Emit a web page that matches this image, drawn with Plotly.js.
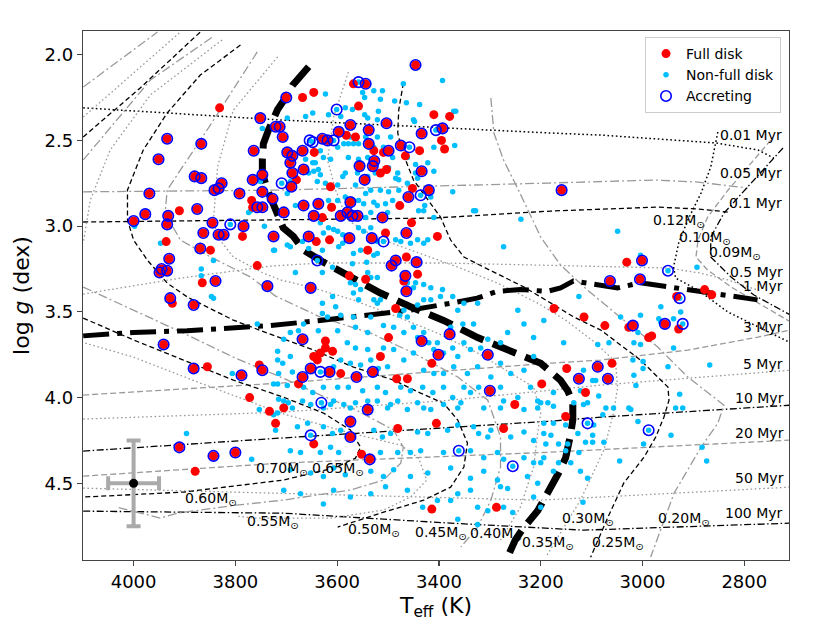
<!DOCTYPE html>
<html>
<head>
<meta charset="utf-8">
<script src="https://cdn.plot.ly/plotly-3.0.1.min.js"></script>
<style>body{margin:0;background:#fff;} #hr{width:830px;height:623px;}</style>
</head>
<body>
<div id="hr"></div>
<script>
// stars: [Teff, log g]
var fullDisk = [[3831,2.31],[3934,2.49],[3867,2.52],[3951,2.61],[3880,2.71],[3867,2.72],[3827,2.75],[3833,2.78],[3841,2.79],[3792,2.81],
[3969,2.81],[3910,2.91],[3977,2.93],[4000,2.97],[3875,2.90],[3932,2.94],[3934,2.99],[3764,2.56],[3751,2.37],[3721,2.42],
[3766,2.73],[3747,2.70],[3768,2.85],[3766,2.89],[3757,2.89],[3747,2.89],[3747,2.80],[3727,2.84],[3446,2.06],[3568,2.17],
[3544,2.17],[3668,2.25],[3646,2.22],[3700,2.25],[3558,2.30],[3410,2.35],[3379,2.36],[3574,2.41],[3538,2.44],[3503,2.40],
[3713,2.42],[3707,2.48],[3597,2.45],[3582,2.47],[3564,2.48],[3434,2.46],[3393,2.43],[3395,2.50],[3389,2.55],[3475,2.53],
[3438,2.56],[3698,2.57],[3688,2.59],[3645,2.57],[3668,2.56],[3538,2.52],[3528,2.56],[3509,2.57],[3499,2.56],[3692,2.63],
[3688,2.69],[3666,2.67],[3680,2.73],[3556,2.65],[3527,2.62],[3530,2.65],[3515,2.69],[3503,2.67],[3546,2.73],[3434,2.68],
[3466,2.59],[3690,2.77],[3613,2.77],[3452,2.78],[3420,2.79],[3460,2.83],[3705,2.92],[3666,2.88],[3637,2.87],[3611,2.89],
[3574,2.86],[3477,2.88],[3646,2.94],[3629,2.95],[3593,2.94],[3580,2.92],[3570,2.94],[3560,2.94],[3511,2.95],[3159,2.79],
[3845,2.98],[3784,3.00],[3863,3.04],[3833,3.05],[3823,3.05],[3786,3.06],[3725,3.06],[3936,3.09],[3869,3.13],[3849,3.14],
[3930,3.19],[3945,3.25],[3934,3.26],[3949,3.27],[3757,3.23],[3865,3.33],[3839,3.32],[3737,3.35],[3928,3.42],[3924,3.45],
[3882,3.46],[3941,3.69],[3882,3.83],[3855,3.82],[3788,3.87],[3753,3.81],[3747,3.84],[3772,4.00],[3733,4.08],[3721,4.15],
[3910,4.29],[3843,4.34],[3800,4.32],[3879,4.43],[3454,2.98],[3656,3.06],[3641,3.09],[3615,3.08],[3576,3.07],[3532,3.07],
[3505,3.04],[3464,3.04],[3403,3.06],[3540,3.14],[3485,3.20],[3493,3.23],[3444,3.21],[3464,3.18],[3576,3.29],[3544,3.31],
[3466,3.29],[3469,3.32],[3442,3.28],[3652,3.36],[3464,3.38],[3485,3.48],[3499,3.65],[3434,3.67],[3379,3.63],[3668,3.66],
[3623,3.67],[3609,3.73],[3646,3.76],[3639,3.78],[3633,3.74],[3623,3.71],[3401,3.75],[3414,3.80],[3304,3.75],[3515,3.76],
[3652,3.83],[3668,3.88],[3676,3.92],[3615,3.85],[3593,3.86],[3562,3.88],[3530,3.85],[3483,3.89],[3462,3.89],[3540,4.07],
[3705,4.06],[3198,3.92],[3251,4.04],[3300,3.96],[3574,4.14],[3574,4.23],[3646,4.27],[3481,4.18],[3405,4.15],[3552,4.33],
[3536,4.36],[3273,4.18],[3414,4.65],[3287,4.64],[3031,3.21],[3001,3.20],[3064,3.32],[3005,3.31],[2878,3.37],[2864,3.40],
[2933,3.41],[3174,3.48],[3115,3.53],[3074,3.58],[3019,3.58],[3027,3.59],[2956,3.57],[2929,3.60],[2988,3.65],[2982,3.64],
[3088,3.82],[3060,3.80],[3149,3.83],[3125,3.89],[3068,3.89],[3112,3.97],[3151,4.11],[3629,2.49],[3619,2.50]];

var nonFullDisk = [[3470,2.17],[3393,2.15],[3623,2.23],[3550,2.22],[3546,2.25],[3528,2.21],[3511,2.21],[3515,2.26],[3487,2.27],[3464,2.28],
[3438,2.29],[3584,2.31],[3570,2.32],[3546,2.35],[3519,2.33],[3648,2.34],[3662,2.36],[3698,2.37],[3617,2.35],[3593,2.36],
[3521,2.38],[3540,2.37],[3450,2.38],[3448,2.39],[3371,2.33],[3367,2.33],[3495,2.48],[3521,2.48],[3574,2.48],[3587,2.52],
[3578,2.52],[3568,2.52],[3558,2.52],[3599,2.54],[3544,2.48],[3528,2.54],[3633,2.56],[3627,2.60],[3613,2.61],[3578,2.60],
[3558,2.61],[3540,2.60],[3509,2.54],[3491,2.60],[3462,2.60],[3410,2.54],[3369,2.53],[3446,2.64],[3422,2.63],[3410,2.68],
[3648,2.63],[3643,2.63],[3637,2.67],[3662,2.61],[3656,2.69],[3646,2.68],[3633,2.70],[3589,2.71],[3584,2.69],[3560,2.69],
[3540,2.71],[3525,2.69],[3499,2.66],[3481,2.69],[3485,2.72],[3479,2.73],[3462,2.75],[3446,2.69],[3442,2.72],[3692,2.74],
[3698,2.81],[3639,2.74],[3623,2.75],[3599,2.76],[3564,2.76],[3544,2.81],[3534,2.79],[3515,2.79],[3499,2.80],[3479,2.79],
[3373,2.80],[3416,2.83],[3491,2.85],[3505,2.87],[3568,2.85],[3558,2.85],[3548,2.87],[3528,2.86],[3584,2.83],[3599,2.85],
[3617,2.85],[3332,2.91],[3410,2.95],[3534,2.92],[3544,2.95],[3430,2.91],
[3705,2.91],[3682,2.88],[3521,2.88],[3501,2.92],[3440,2.91],[3428,2.88],[3328,2.91],[3239,2.96],[3273,3.12],[3725,3.14],
[3698,3.11],[3692,3.12],[3668,3.09],[3656,3.13],[3629,3.14],[3627,3.04],[3599,3.03],[3589,3.05],[3633,2.98],[3617,3.01],
[3607,3.02],[3558,3.01],[3548,3.03],[3534,3.01],[3521,3.09],[3485,3.08],[3475,3.09],[3456,3.10],[3442,3.08],[3422,3.08],
[3430,3.10],[3597,3.12],[3589,3.10],[3568,3.16],[3554,3.14],[3528,3.17],[3521,3.16],[3570,3.22],[3542,3.21],[3609,3.24],
[3682,3.27],[3629,3.27],[3574,3.33],[3564,3.34],[3554,3.37],[3540,3.27],[3534,3.30],[3521,3.30],[3462,3.33],[3446,3.33],
[3450,3.36],[3430,3.34],[3416,3.36],[3393,3.37],[3397,3.41],[3430,3.43],[3442,3.46],[3469,3.49],[3462,3.53],[3477,3.52],
[3528,3.43],[3521,3.45],[3515,3.43],[3558,3.43],[3534,3.53],[3568,3.53],[3593,3.52],[3619,3.53],[3629,3.45],[3609,3.41],
[3603,3.47],[3568,3.39],[3629,3.51],[3666,3.57],[3692,3.62],[3705,3.66],[3717,3.73],[3676,3.61],[3637,3.61],[3599,3.61],
[3564,3.59],[3540,3.62],[3509,3.58],[3489,3.59],[3469,3.62],[3450,3.59],[3442,3.65],[3430,3.62],[3420,3.68],[3410,3.72],
[3403,3.68],[3391,3.74],[3373,3.71],[3363,3.76],[3351,3.68],[3338,3.72],[3318,3.71],[3304,3.66],[3279,3.68],[3265,3.62],
[3332,3.57],[3353,3.57],[3377,3.59],[3363,3.49],[3351,3.45],[3324,3.45],[3373,3.41],[3416,3.43],[3245,3.49],[3233,3.57],
[3214,3.65],[3194,3.55],[3214,3.76],[3233,3.84],[3259,3.86],[3279,3.80],[3298,3.88],[3324,3.82],[3344,3.86],[3371,3.82],
[3391,3.86],[3410,3.86],[3430,3.84],[3469,3.78],[3450,3.74],[3489,3.72],[3509,3.71],[3540,3.72],[3564,3.71],[3580,3.68],
[3593,3.78],[3607,3.82],[3574,3.80],[3554,3.81],[3534,3.78],[3519,3.83],[3501,3.82],[3717,3.78],[3707,3.80],[3692,3.76],
[3688,3.85],[3715,3.86],[3725,3.92],[3698,3.93],[3666,3.94],[3648,3.97],[3627,3.94],[3599,3.94],[3578,3.94],[3550,3.96],
[3521,3.94],[3505,3.97],[3475,3.94],[3456,3.96],[3432,3.94],[3412,3.97],[3391,3.94],[3373,4.00],[3351,3.94],[3338,3.97],
[3322,3.94],[3279,3.94],[3273,4.02],[3245,4.00],[3220,3.94],[3206,4.02],[3186,4.03],[3363,4.06],[3391,4.04],[3416,4.07],
[3442,4.03],[3462,4.07],[3481,4.02],[3501,4.06],[3521,4.02],[3540,4.02],[3564,4.03],[3587,4.04],[3607,4.02],[3627,4.06],
[3652,4.04],[3668,4.02],[3688,4.06],[3705,4.02],[3717,4.09],
[3696,4.03],[3613,4.04],[3574,4.06],[3495,4.04],[3430,4.06],[3357,4.03],[3312,4.06],[3279,4.06],[3233,4.07],[3206,4.06],
[3721,4.19],[3678,4.17],[3658,4.15],[3627,4.17],[3609,4.21],[3593,4.19],[3528,4.19],[3511,4.23],[3495,4.21],[3442,4.20],
[3422,4.21],[3383,4.19],[3363,4.16],[3332,4.17],[3322,4.21],[3298,4.19],[3304,4.23],[3259,4.23],[3233,4.20],[3214,4.25],
[3194,4.21],[3692,4.31],[3672,4.32],[3633,4.32],[3613,4.29],[3597,4.32],[3515,4.32],[3481,4.32],[3456,4.32],[3436,4.31],
[3391,4.32],[3338,4.31],[3312,4.35],[3285,4.32],[3273,4.36],[3233,4.35],[3214,4.38],[3194,4.35],[3692,4.42],[3652,4.44],
[3627,4.46],[3607,4.41],[3584,4.45],[3534,4.43],[3509,4.46],[3489,4.42],[3456,4.46],[3422,4.44],[3377,4.41],[3338,4.47],
[3312,4.43],[3285,4.48],[3279,4.52],[3265,4.53],[3226,4.46],[3206,4.50],[3705,4.54],[3672,4.56],[3627,4.62],[3607,4.54],
[3574,4.58],[3534,4.56],[3505,4.52],[3462,4.54],[3432,4.64],[3403,4.60],[3377,4.60],[3363,4.56],[3338,4.54],[3324,4.64],
[3304,4.66],[3273,4.64],[3255,4.67],[3324,4.74],[3363,4.71],[3214,4.58],[3200,4.64],
[3175,4.05],[3135,4.03],[3116,4.04],[3072,4.06],[3027,4.06],[3023,4.07],[2935,4.06],[2921,4.06],[3194,4.15],[3175,4.15],
[3151,4.16],[3096,4.16],[3078,4.10],[3057,4.06],[3009,4.14],[2944,4.22],[2998,4.27],[2883,4.29],[2874,4.37],[3180,4.22],
[3165,4.27],[3127,4.21],[3112,4.26],[3098,4.26],[3098,4.22],[3147,4.27],[3190,4.27],[3151,4.31],[3125,4.32],[3076,4.26],
[3200,4.38],[3165,4.38],[3141,4.38],[3045,4.37],[3175,4.43],[3122,4.43],[3108,4.47],[3117,4.61],
[3049,3.03],[3004,3.17],[2893,3.24],[3125,3.41],[3043,3.53],[3004,3.52],[2964,3.47],[2968,3.54],[2964,3.56],[2939,3.54],
[2925,3.50],[2939,3.71],[3017,3.68],[3004,3.69],[3088,3.69],[3066,3.68],[3155,3.68],[3019,3.78],[2999,3.79],[3009,3.62],
[2950,3.82],[2868,3.81],[2999,3.83],[3116,3.84],[3098,3.90],[3092,3.90],[3017,3.87],[3013,3.93],[3086,3.99],[3122,3.96],
[3108,4.03],[2927,3.98],[3175,3.97],[3200,4.03],
[3998,3.00],[3947,3.10],[3843,3.20],[3867,3.25],[3867,3.29],[3847,3.41],[3843,3.42],[3723,3.14],[3743,3.00],[3806,3.86],
[3717,3.92],[3753,4.07],[3715,4.01],[3757,3.57],[3896,4.21],[3725,4.10],[3768,4.36],[3747,2.43],[3751,2.74],[3770,2.91],
[3774,2.92],
[3558,2.16],[3601,2.32],[3654,2.50],[3648,2.51],[3607,2.50],[3406,2.44],[3458,2.54],[3436,2.82],[3709,2.75],[3810,2.99],
[3509,3.09],[3639,3.20],[3631,4.03],[3652,4.22],[3361,4.31],[3255,4.40],[2950,3.26],[2927,3.42],[2921,3.57],[3108,4.15],
[2988,4.19],[3633,3.85]];

var accreting = [[3934,2.49],[3867,2.52],[3951,2.61],[3880,2.71],[3867,2.72],[3827,2.75],[3833,2.78],[3841,2.79],[3792,2.81],[3969,2.81],
[3977,2.93],[4000,2.97],[3875,2.90],[3932,2.94],[3934,2.99],[3764,2.56],[3751,2.37],[3721,2.42],[3766,2.73],[3747,2.70],
[3757,2.89],[3747,2.89],[3747,2.80],[3727,2.84],[3446,2.06],[3544,2.17],[3700,2.25],[3574,2.41],[3538,2.44],[3503,2.40],
[3713,2.42],[3707,2.48],[3597,2.45],[3434,2.46],[3393,2.43],[3475,2.53],[3698,2.57],[3688,2.59],[3668,2.56],[3538,2.52],
[3499,2.56],[3692,2.63],[3688,2.69],[3666,2.67],[3556,2.65],[3527,2.62],[3530,2.65],[3546,2.73],[3434,2.68],[3690,2.77],
[3420,2.79],[3460,2.83],[3705,2.92],[3666,2.88],[3637,2.87],[3574,2.86],[3646,2.94],[3593,2.94],[3580,2.92],[3570,2.94],
[3560,2.94],[3511,2.95],[3159,2.79],[3845,2.98],[3784,3.00],[3863,3.04],[3833,3.05],[3823,3.05],[3725,3.06],[3869,3.13],
[3930,3.19],[3945,3.25],[3934,3.26],[3949,3.27],[3839,3.32],[3737,3.35],[3928,3.42],[3882,3.46],[3941,3.69],[3882,3.83],
[3788,3.87],[3747,3.84],[3910,4.29],[3843,4.34],[3800,4.32],[3656,3.06],[3576,3.07],[3532,3.07],[3464,3.04],[3485,3.20],
[3493,3.23],[3444,3.21],[3466,3.29],[3652,3.36],[3464,3.38],[3434,3.67],[3379,3.63],[3668,3.66],[3401,3.75],[3304,3.75],
[3652,3.83],[3668,3.88],[3615,3.85],[3562,3.88],[3530,3.85],[3540,4.07],[3300,3.96],[3574,4.14],[3574,4.23],[3536,4.36],
[3001,3.20],[3064,3.32],[3005,3.31],[3019,3.58],[2956,3.57],[3088,3.82],[3125,3.89],[3068,3.89],[3629,2.49],[3619,2.50],
[3558,2.16],[3601,2.32],[3654,2.50],[3648,2.51],[3607,2.50],[3406,2.44],[3458,2.54],[3436,2.82],[3709,2.75],[3810,2.99],
[3509,3.09],[3639,3.20],[3631,4.03],[3652,4.22],[3361,4.31],[3255,4.40],[2950,3.26],[2927,3.42],[2921,3.57],[3108,4.15],
[2988,4.19],[3633,3.85]];

// typical uncertainty shown at (4000 K, 4.5)
var errT = 50, errG = 0.25;

// thick curves
var thickDashT = [3656,3688,3701,3717,3735,3745,3747,3747,3737,3725,3706,3686,3666,3627,3570,3515,3456,3391,3324,3245,3200,3161,3147,3137,3137,3141,3151,3165,3180,3196,3206,3234,3250,3262];
var thickDashG = [2.07,2.18,2.25,2.32,2.44,2.52,2.61,2.69,2.79,2.87,3.01,3.06,3.14,3.21,3.30,3.39,3.47,3.55,3.65,3.74,3.80,3.90,3.96,4.03,4.13,4.21,4.35,4.44,4.52,4.61,4.66,4.76,4.83,4.91];
var thickDotT = [4099,4001,3895,3785,3731,3633,3535,3456,3378,3325,3285,3240,3187,3161,3136,3096,3049,3004,2939,2892,2846,2774];
var thickDotG = [3.64,3.62,3.61,3.59,3.58,3.55,3.52,3.49,3.45,3.42,3.38,3.37,3.38,3.36,3.32,3.34,3.36,3.33,3.36,3.38,3.40,3.43];

// isochrones
var iso001T = [4099,3717,3180,3082,2856,2773,2742], iso001G = [2.31,2.38,2.457,2.469,2.515,2.556,2.603];
var iso005T = [4099,3717,3186,2978,2891,2793], iso005G = [2.80,2.79,2.749,2.731,2.743,2.778];
var iso01T = [4099,3410,3180,2970,2891,2832], iso01G = [2.976,2.953,2.912,2.889,2.90,2.918];
var iso05T = [4099,3908,3731,3633,3391,3200,3068,2950,2886,2832,2773], iso05G = [3.396,3.303,3.233,3.215,3.215,3.227,3.239,3.244,3.274,3.314,3.373];
var iso3T = [4099,3711,3180,3082,2911,2773,2709], iso3G = [3.985,3.915,3.799,3.781,3.723,3.647,3.606];
var iso5T = [4099,3711,3377,3082,2709], iso5G = [4.125,4.085,4.015,3.927,3.84];
var iso10T = [4099,3711,3180,3082,2709], iso10G = [4.312,4.236,4.137,4.114,4.044];
var iso20T = [4099,3711,3180,2709], iso20G = [4.458,4.382,4.318,4.248];
var iso50T = [4099,3672,3200,2709], iso50G = [4.528,4.563,4.598,4.522];
var iso100T = [4099,3705,3377,3116,2709], iso100G = [4.662,4.674,4.732,4.773,4.732];

// mass tracks
var m070T = [4099,3953], m070G = [2.189,1.868];
var m065aT = [4099,3908], m065aG = [2.364,1.868];
var m065T = [4099,4000,3902,3804,3706,3627,3574,3554,3564,3607,3706,3902,4099];
var m065G = [3.536,3.664,3.781,3.898,3.997,4.09,4.189,4.289,4.353,4.411,4.481,4.551,4.58];
var m060aT = [4099,3987,3869], m060aG = [2.48,2.194,1.868];
var m060T = [4099,4000,3902,3804,3711,3633,3574,3489,3470,3475,3509,3574,3706,3798,3914,3948,4032];
var m060G = [3.355,3.489,3.624,3.764,3.88,3.985,4.055,4.189,4.289,4.382,4.481,4.539,4.598,4.627,4.674,4.703,4.639];
var m055aT = [4099,3967,3845], m055aG = [2.614,2.148,1.897];
var m055bT = [3826,3967,4046,4085,4099], m055bG = [1.914,2.235,2.556,2.848,3.10];
var m055T = [4095,4000,3869,3711,3574,3475,3440,3424,3456,3509,3613,3759,3798];
var m055G = [3.682,3.764,3.915,4.09,4.207,4.277,4.353,4.481,4.58,4.656,4.703,4.703,4.691];
var m050T = [3790,3869,3934,3981,4012,4012,4000,3973,3934,3894,3855,3804,3737,3646,3568,3489,3436,3391,3363,3344,3351,3377,3430,3515,3599];
var m050G = [1.944,2.119,2.34,2.556,2.789,2.964,3.081,3.198,3.332,3.414,3.472,3.548,3.624,3.723,3.822,3.898,3.974,4.032,4.131,4.265,4.405,4.522,4.598,4.674,4.755];
var m045T = [3757,3849,3934,3938,3908,3849,3770,3721,3633,3534,3450,3363,3304,3279,3279,3298,3324,3357];
var m045G = [1.984,2.41,2.789,2.924,3.081,3.18,3.297,3.408,3.53,3.624,3.74,3.88,4.015,4.23,4.405,4.598,4.755,4.872];
var m040T = [3717,3804,3835,3843,3835,3804,3745,3711,3646,3568,3481,3403,3324,3259,3214,3200,3206,3214,3240,3279];
var m040G = [2.013,2.323,2.655,2.964,3.064,3.18,3.274,3.314,3.361,3.431,3.53,3.624,3.74,3.857,3.939,4.09,4.207,4.405,4.639,4.831];
var m030T = [3578,3607,3619,3603,3580,3525,3456,3363,3285,3206,3151,3092,3053,3049,3057,3076,3122,3190];
var m030G = [2.101,2.364,2.614,2.789,2.964,3.064,3.139,3.239,3.332,3.449,3.548,3.682,3.793,3.939,4.09,4.306,4.598,4.93];
var m025T = [3470,3479,3481,3471,3450,3422,3397,3377,3351,3312,3273,3233,3180,3135,3082,3039,3004,2950,2948,2958,2974,2997,3037,3068,3102];
var m025G = [2.165,2.323,2.457,2.574,2.731,2.848,2.947,3.081,3.18,3.239,3.297,3.355,3.449,3.53,3.606,3.705,3.781,3.939,4.015,4.114,4.23,4.347,4.499,4.697,4.931];
var m020T = [3298,3292,3273,3239,3200,3161,3108,3037,2970,2911,2840,2852,2885,2938,2984];
var m020G = [2.253,2.457,2.615,2.819,3.064,3.227,3.373,3.548,3.705,3.88,4.044,4.149,4.289,4.557,4.93];
var m012T = [2852,2866,2885,2911,2929,2939,2935,2891,2832,2773,2712];
var m012G = [2.451,2.655,2.807,2.964,3.099,3.239,3.303,3.373,3.501,3.589,3.676];
var m010T = [2748,2832,2872,2891,2895,2872,2826,2767,2709];
var m010G = [2.498,2.79,2.947,3.081,3.18,3.256,3.355,3.46,3.559];
var m009T = [2724,2793,2840,2866,2866,2826,2781,2709];
var m009G = [2.544,2.772,2.924,3.064,3.18,3.297,3.402,3.519];

// labels
var isoLabels = ['0.01 Myr','0.05 Myr','0.1 Myr','0.5 Myr','1 Myr','3 Myr','5 Myr','10 Myr','20 Myr','50 Myr','100 Myr'];
var isoLabelT = [2787,2787,2779,2777,2763,2763,2763,2771,2771,2771,2781];
var isoLabelG = [2.469,2.690,2.865,3.268,3.349,3.589,3.805,4.003,4.207,4.470,4.674];
var massLabels = ['0.70','0.65','0.60','0.55','0.50','0.45','0.40','0.35','0.30','0.25','0.20','0.12','0.10','0.09'];
var massLabelT = [3709,3599,3849,3727,3528,3397,3289,3186,3108,3049,2919,2929,2879,2819];
var massLabelG = [4.417,4.417,4.592,4.726,4.773,4.79,4.796,4.849,4.709,4.849,4.709,2.970,3.07,3.157];

var BLK = '#000000', GRY = '#9a9a9a';
var DOT = '1.6px,2.6px', DASH = '5px,3px', GDASH = '6px,3px', DASHDOT = '7px,2.5px,1.5px,2.5px', GDASHDOT = '9px,3px,2px,3px';

function ln(x, y, color, dash, width){
    return {x: x, y: y, type: 'scatter', mode: 'lines', showlegend: false, hoverinfo: 'skip',
        line: {color: color, dash: dash, width: width || 1.3}};
}
function col(a, i){ return a.map(function(p){ return p[i]; }); }

var traces = [
    ln(iso001T, iso001G, BLK, DOT, 1.5),
    ln(iso005T, iso005G, GRY, GDASHDOT),
    ln(iso01T, iso01G, BLK, DASH),
    ln(iso05T, iso05G, GRY, DOT),
    ln(iso3T, iso3G, GRY, GDASH),
    ln(iso5T, iso5G, GRY, DOT),
    ln(iso10T, iso10G, BLK, DASHDOT),
    ln(iso20T, iso20G, GRY, GDASH),
    ln(iso50T, iso50G, GRY, DOT),
    ln(iso100T, iso100G, BLK, DASHDOT),
    ln(m070T, m070G, GRY, GDASHDOT),
    ln(m065aT, m065aG, GRY, DOT),
    ln(m065T, m065G, BLK, DASH),
    ln(m060aT, m060aG, BLK, DASH),
    ln(m060T, m060G, GRY, GDASHDOT),
    ln(m055aT, m055aG, GRY, GDASHDOT),
    ln(m055bT, m055bG, GRY, DOT),
    ln(m055T, m055G, GRY, DOT),
    ln(m050T, m050G, BLK, DASH),
    ln(m045T, m045G, GRY, GDASHDOT),
    ln(m040T, m040G, GRY, DOT),
    ln(m030T, m030G, GRY, DOT),
    ln(m025T, m025G, BLK, DASH),
    ln(m020T, m020G, GRY, GDASHDOT),
    ln(m012T, m012G, BLK, DOT, 1.5),
    ln(m010T, m010G, GRY, GDASH),
    ln(m009T, m009G, BLK, DASHDOT),
    ln(thickDotT, thickDotG, BLK, '26px,8px,5px,8px', 5),
    ln(thickDashT, thickDashG, BLK, '25px,10px', 7),
    {x: col(nonFullDisk, 0), y: col(nonFullDisk, 1), type: 'scatter', mode: 'markers', name: 'Non-full disk',
        legendrank: 2, marker: {color: '#00bfff', size: 5.5}},
    {x: col(fullDisk, 0), y: col(fullDisk, 1), type: 'scatter', mode: 'markers', name: 'Full disk',
        legendrank: 1, marker: {color: '#ff0000', size: 9}},
    {x: col(accreting, 0), y: col(accreting, 1), type: 'scatter', mode: 'markers', name: 'Accreting',
        legendrank: 3, marker: {symbol: 'circle-open', color: '#0000ff', size: 10.5, line: {width: 1.6}}},
    {x: [4000], y: [4.5], type: 'scatter', mode: 'markers', showlegend: false,
        marker: {color: '#000', size: 9},
        error_x: {type: 'constant', value: errT, color: '#aaaaaa', thickness: 4, width: 7},
        error_y: {type: 'constant', value: errG, color: '#aaaaaa', thickness: 4, width: 7}}
];

var notes = [];
isoLabels.forEach(function(t, i){
    notes.push({x: isoLabelT[i], y: isoLabelG[i], text: t, showarrow: false, xanchor: 'center', yanchor: 'middle',
        font: {size: 14, color: '#000'}});
});
massLabels.forEach(function(t, i){
    notes.push({x: massLabelT[i], y: massLabelG[i], text: t + 'M<sub>⊙</sub>', showarrow: false, xanchor: 'center', yanchor: 'middle',
        font: {size: 14, color: '#000'}});
});

var axisStyle = {showgrid: false, zeroline: false, showline: true, linecolor: '#444', linewidth: 1.3, mirror: true,
    ticks: 'outside', ticklen: 5, tickwidth: 1.2, tickcolor: '#444', tickfont: {size: 18, color: '#000'}};

var layout = {
    width: 830, height: 623,
    margin: {l: 83, r: 41, t: 31, b: 63, pad: 0},
    paper_bgcolor: '#fff', plot_bgcolor: '#fff',
    font: {family: 'DejaVu Sans', color: '#000'},
    xaxis: Object.assign({}, axisStyle, {range: [4099.4, 2712.2], tick0: 0, dtick: 200,
        title: {text: 'T<sub>eff</sub> (K)', font: {size: 22}, standoff: 6}}),
    yaxis: Object.assign({}, axisStyle, {range: [4.947, 1.862], tick0: 0, dtick: 0.5, tickformat: '.1f',
        title: {text: 'log <i>g</i> (dex)', font: {size: 22}, standoff: 8}}),
    legend: {x: 0.9887, y: 0.9887, xanchor: 'right', yanchor: 'top', bgcolor: 'rgba(255,255,255,0.9)',
        bordercolor: '#cccccc', borderwidth: 1, font: {size: 14}},
    annotations: notes,
    showlegend: true
};

Plotly.newPlot('hr', traces, layout, {displayModeBar: false, staticPlot: true});
</script>
</body>
</html>
